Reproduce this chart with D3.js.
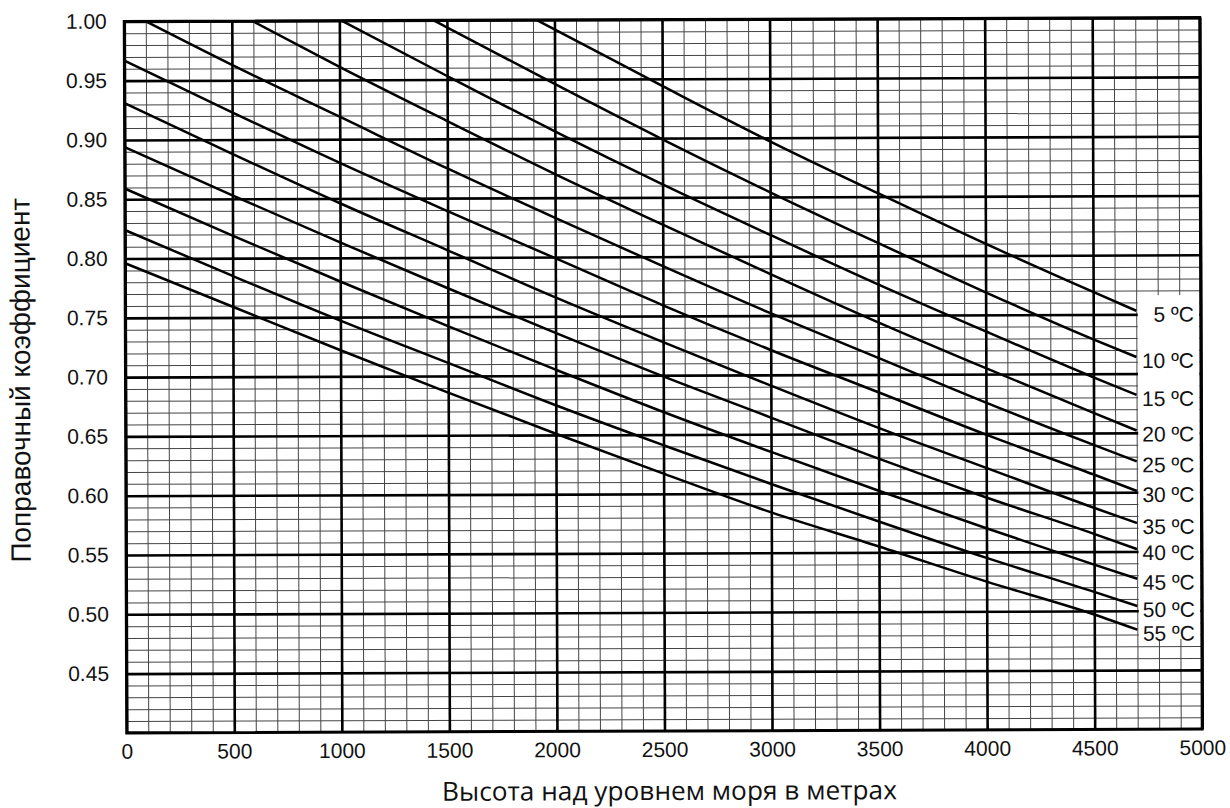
<!DOCTYPE html>
<html>
<head>
<meta charset="utf-8">
<script src="https://cdn.jsdelivr.net/npm/d3@7"></script>
<style>
  html, body { margin: 0; padding: 0; background: #ffffff; }
  svg { display: block; }
</style>
</head>
<body>
<svg id="chart" width="1230" height="808"></svg>
<script>
// ---------------- DATA ----------------
const xTickValues = [0, 500, 1000, 1500, 2000, 2500, 3000, 3500, 4000, 4500, 5000];
const yTickValues = [0.45, 0.50, 0.55, 0.60, 0.65, 0.70, 0.75, 0.80, 0.85, 0.90, 0.95, 1.00];
const yTickLabels = ["0.45", "0.50", "0.55", "0.60", "0.65", "0.70", "0.75", "0.80", "0.85", "0.90", "0.95", "1.00"];

const temperatures = [5, 10, 15, 20, 25, 30, 35, 40, 45, 50, 55];
const curveLabels = ["5 ºC", "10 ºC", "15 ºC", "20 ºC", "25 ºC", "30 ºC", "35 ºC", "40 ºC", "45 ºC", "50 ºC", "55 ºC"];

// [altitude m, correction factor]
const curve5C  = [[1916, 1.000], [2000, 0.992], [2500, 0.944], [3000, 0.897], [3500, 0.853], [4000, 0.810], [4500, 0.769], [4700, 0.753]];
const curve10C = [[1437, 1.000], [1500, 0.994], [2000, 0.946], [2500, 0.899], [3000, 0.854], [3500, 0.811], [4000, 0.769], [4500, 0.729], [4700, 0.714]];
const curve15C = [[1010, 1.000], [1500, 0.953], [2000, 0.906], [2500, 0.861], [3000, 0.818], [3500, 0.776], [4000, 0.736], [4500, 0.697], [4700, 0.682]];
const curve20C = [[595, 1.000], [1000, 0.961], [1500, 0.915], [2000, 0.870], [2500, 0.827], [3000, 0.785], [3500, 0.744], [4000, 0.705], [4500, 0.667], [4700, 0.652]];
const curve25C = [[100, 1.000], [500, 0.963], [1000, 0.919], [1500, 0.875], [2000, 0.833], [2500, 0.792], [3000, 0.752], [3500, 0.714], [4000, 0.676], [4500, 0.640], [4700, 0.626]];
const curve30C = [[0, 0.967], [500, 0.923], [1000, 0.880], [1500, 0.839], [2000, 0.799], [2500, 0.759], [3000, 0.721], [3500, 0.685], [4000, 0.649], [4500, 0.615], [4700, 0.601]];
const curve35C = [[0, 0.931], [500, 0.888], [1000, 0.846], [1500, 0.806], [2000, 0.766], [2500, 0.728], [3000, 0.691], [3500, 0.655], [4000, 0.621], [4500, 0.587], [4700, 0.574]];
const curve40C = [[0, 0.894], [500, 0.853], [1000, 0.813], [1500, 0.774], [2000, 0.736], [2500, 0.699], [3000, 0.664], [3500, 0.629], [4000, 0.596], [4500, 0.565], [4700, 0.552]];
const curve45C = [[0, 0.859], [500, 0.819], [1000, 0.780], [1500, 0.742], [2000, 0.705], [2500, 0.669], [3000, 0.635], [3500, 0.602], [4000, 0.570], [4500, 0.539], [4700, 0.527]];
const curve50C = [[0, 0.824], [500, 0.785], [1000, 0.747], [1500, 0.711], [2000, 0.675], [2500, 0.641], [3000, 0.608], [3500, 0.576], [4000, 0.545], [4500, 0.516], [4700, 0.504]];
const curve55C = [[0, 0.796], [500, 0.759], [1000, 0.722], [1500, 0.686], [2000, 0.651], [2500, 0.617], [3000, 0.584], [3500, 0.555], [4000, 0.525], [4500, 0.497], [4700, 0.484]];

const curves = [curve5C, curve10C, curve15C, curve20C, curve25C, curve30C, curve35C, curve40C, curve45C, curve50C, curve55C];

const xTitle = "Высота над уровнем моря в метрах";
const yTitle = "Поправочный  коэффициент";

// ---------------- LAYOUT ----------------
const svg = d3.select("#chart");
const plotLeft = 125.5, plotRight = 1201, plotTop = 19.5, plotBottom = 731;
const plotW = plotRight - plotLeft, plotH = plotBottom - plotTop;

const x = d3.scaleLinear().domain([0, 5000]).range([plotLeft, plotRight]);
const y = d3.scaleLinear().domain([0.40, 1.00]).range([plotBottom, plotTop]);

svg.append("rect").attr("width", 1230).attr("height", 808).attr("fill", "#ffffff");

const root = svg.append("g").attr("transform", "rotate(-0.2, 662, 376)");

const minorX = d3.range(0, 5001, 100).filter(v => v % 500 !== 0);
const minorY = d3.range(40, 101, 1).filter(v => v % 5 !== 0).map(v => v / 100);

// minor grid (through axes)
const gMinorX = root.append("g").attr("transform", `translate(0,${plotBottom})`)
  .call(d3.axisBottom(x).tickValues(minorX).tickSize(-plotH).tickFormat(""));
gMinorX.select(".domain").remove();
gMinorX.selectAll("line").attr("stroke", "#454545").attr("stroke-width", 1);

const gMinorY = root.append("g").attr("transform", `translate(${plotLeft},0)`)
  .call(d3.axisLeft(y).tickValues(minorY).tickSize(-plotW).tickFormat(""));
gMinorY.select(".domain").remove();
gMinorY.selectAll("line").attr("stroke", "#454545").attr("stroke-width", 1);

// major grid + tick labels
const gx = root.append("g").attr("transform", `translate(0,${plotBottom})`)
  .call(d3.axisBottom(x).tickValues(xTickValues).tickSize(-plotH).tickPadding(11).tickFormat(d3.format("d")));
gx.select(".domain").remove();
gx.selectAll("line").attr("stroke", "#000").attr("stroke-width", 2.6);
gx.selectAll("text").attr("fill", "#111").attr("font-family", "'Liberation Sans', Arial, sans-serif").attr("font-size", 21);

const gy = root.append("g").attr("transform", `translate(${plotLeft},0)`)
  .call(d3.axisLeft(y).tickValues(yTickValues).tickSize(-plotW).tickPadding(17.5)
    .tickFormat((d, i) => yTickLabels[i]));
gy.select(".domain").remove();
gy.selectAll("line").attr("stroke", "#000").attr("stroke-width", 2.6);
gy.selectAll("text").attr("fill", "#111").attr("font-family", "'Liberation Sans', Arial, sans-serif").attr("font-size", 21);

// label column (grid erased behind the curve labels)
root.append("rect")
  .attr("x", x(4700) + 1.5)
  .attr("y", y(0.766))
  .attr("width", x(5000) - x(4700) - 3)
  .attr("height", y(0.476) - y(0.766))
  .attr("fill", "#ffffff");

// curves
const line = d3.line().x(d => x(d[0])).y(d => y(d[1])).curve(d3.curveMonotoneX);
root.append("g").selectAll("path").data(curves).join("path")
  .attr("d", line)
  .attr("fill", "none")
  .attr("stroke", "#000")
  .attr("stroke-width", 2.5)
  .attr("stroke-linejoin", "round");

// curve labels
root.append("g").selectAll("text").data(curves).join("text")
  .attr("x", 1194)
  .attr("y", d => y(d[d.length - 1][1]) + 11)
  .attr("text-anchor", "end")
  .attr("font-family", "'Liberation Sans', Arial, sans-serif")
  .attr("font-size", 21)
  .attr("fill", "#111")
  .text((d, i) => curveLabels[i]);

// border
root.append("rect")
  .attr("x", plotLeft).attr("y", plotTop)
  .attr("width", plotW).attr("height", plotH)
  .attr("fill", "none").attr("stroke", "#000").attr("stroke-width", 3);

// axis titles (font size fitted to the span measured on the picture)
function fitText(sel, target) {
  const len = sel.node().getComputedTextLength();
  const fs = parseFloat(sel.attr("font-size"));
  sel.attr("font-size", fs * target / len);
}
const xt = root.append("text")
  .attr("x", 668).attr("y", 800)
  .attr("text-anchor", "middle")
  .attr("font-family", "'Open Sans', 'Noto Sans', sans-serif")
  .attr("font-size", 24)
  .attr("fill", "#111")
  .text(xTitle);
fitText(xt, 455);

const yt = root.append("text")
  .attr("transform", "translate(30,378) rotate(-90)")
  .attr("text-anchor", "middle")
  .attr("font-family", "'Liberation Sans', Arial, sans-serif")
  .attr("font-size", 22)
  .attr("fill", "#111")
  .text(yTitle);
fitText(yt, 365);
</script>
</body>
</html>
